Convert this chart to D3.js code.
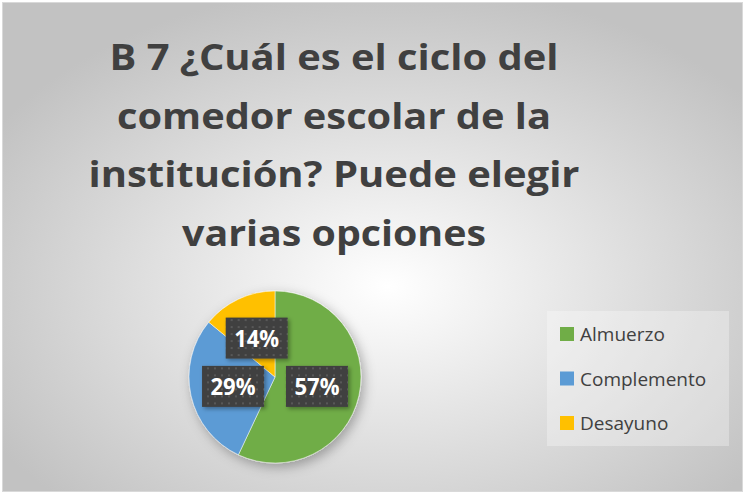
<!DOCTYPE html>
<html>
<head>
<meta charset="utf-8">
<script src="https://cdn.jsdelivr.net/npm/d3@7"></script>
<style>
    body { margin: 0; background: #ffffff; }
    #chart { width: 745px; height: 494px; }
    text { font-family: "Open Sans", sans-serif; }
</style>
</head>
<body>
<div id="chart"></div>
<script>
// chart data
let categories = ["Almuerzo", "Complemento", "Desayuno"];
let values = [57, 29, 14];
let colors = ["#70ad47", "#5b9bd5", "#ffc000"];
let titleLines = ["B 7 ¿Cuál es el ciclo del", "comedor escolar de la", "institución? Puede elegir", "varias opciones"];
let titleWidths = [449, 434, 491, 304];

class pie_chart {

    constructor(parentElement){
        this.parentElement = parentElement;
        this.initVis()
    }

    initVis(){
        let vis = this;

        vis.width = 745;
        vis.height = 494;
        vis.radius = 86;
        vis.center = {x: 275, y: 377};

        vis.svg = d3.select("#" + vis.parentElement).append("svg")
            .attr("width", vis.width)
            .attr("height", vis.height);

        let defs = vis.svg.append("defs");

        // background gradient
        let grad = defs.append("radialGradient")
            .attr("id", "bg-grad")
            .attr("cx", "52%").attr("cy", "58%").attr("r", "62%");
        grad.append("stop").attr("offset", "0%").attr("stop-color", "#ffffff");
        grad.append("stop").attr("offset", "100%").attr("stop-color", "#c2c2c2");

        // shadows
        let sh = defs.append("filter").attr("id", "pie-shadow")
            .attr("x", "-30%").attr("y", "-30%").attr("width", "160%").attr("height", "160%");
        sh.append("feDropShadow")
            .attr("dx", 3).attr("dy", 4).attr("stdDeviation", 6)
            .attr("flood-color", "#000").attr("flood-opacity", 0.3);

        let boxSh = defs.append("filter").attr("id", "box-shadow")
            .attr("x", "-30%").attr("y", "-30%").attr("width", "160%").attr("height", "160%");
        boxSh.append("feDropShadow")
            .attr("dx", 2).attr("dy", 2).attr("stdDeviation", 2)
            .attr("flood-color", "#000").attr("flood-opacity", 0.35);

        // dotted fill for label boxes
        let pat = defs.append("pattern").attr("id", "dots")
            .attr("patternUnits", "userSpaceOnUse")
            .attr("width", 7).attr("height", 7);
        pat.append("rect").attr("width", 7).attr("height", 7).attr("fill", "#404040");
        pat.append("rect").attr("x", 2).attr("y", 2).attr("width", 2).attr("height", 2).attr("fill", "#595959");

        // Border + background
        vis.svg.append("rect")
            .attr("x", 2.5).attr("y", 2.5)
            .attr("width", vis.width - 5).attr("height", vis.height - 5)
            .attr("fill", "url(#bg-grad)")
            .attr("stroke", "#d9d9d9")
            .attr("stroke-width", 1);

        // Title
        vis.svg.append("g")
            .attr("class", "title")
            .selectAll("text")
            .data(titleLines)
            .enter().append("text")
            .attr("x", 334)
            .attr("y", (d, i) => 70 + i * 58.5)
            .attr("text-anchor", "middle")
            .attr("textLength", (d, i) => titleWidths[i])
            .attr("lengthAdjust", "spacingAndGlyphs")
            .style("font-size", "35px")
            .style("font-weight", "bold")
            .attr("fill", "#404040")
            .text(d => d);

        vis.pie_group = vis.svg.append("g")
            .attr("transform", `translate(${vis.center.x}, ${vis.center.y})`);
        vis.slices_group = vis.pie_group.append("g")
            .attr("filter", "url(#pie-shadow)");
        vis.labels_group = vis.pie_group.append("g");

        vis.legend_group = vis.svg.append("g").attr("class", "legend");

        this.wrangleData();
    }

    wrangleData(){
        let vis = this;
        let total = d3.sum(values);
        vis.displayData = categories.map((c, i) => ({
            name: c,
            value: values[i],
            color: colors[i],
            pct: values[i] / total
        }));
        vis.updateVis();
    }

    updateVis(){
        let vis = this;

        let pie = d3.pie().sort(null).value(d => d.value);
        let arc = d3.arc().innerRadius(0).outerRadius(vis.radius);
        let arcs = pie(vis.displayData);

        vis.slices_group.selectAll("path")
            .data(arcs)
            .enter().append("path")
            .attr("d", arc)
            .attr("fill", d => d.data.color)
            .attr("stroke", "#ffffff")
            .attr("stroke-width", 0.5);

        // data labels
        let boxW = 62, boxH = 41;
        let labels = vis.labels_group.selectAll("g")
            .data(arcs)
            .enter().append("g")
            .attr("transform", d => `translate(${arc.centroid(d)[0]}, ${arc.centroid(d)[1]})`);
        labels.append("rect")
            .attr("x", -boxW / 2).attr("y", -boxH / 2)
            .attr("width", boxW).attr("height", boxH)
            .attr("fill", "url(#dots)")
            .attr("filter", "url(#box-shadow)");
        labels.append("text")
            .attr("text-anchor", "middle")
            .attr("y", 8.5)
            .attr("textLength", 45)
            .attr("lengthAdjust", "spacingAndGlyphs")
            .style("font-size", "23px")
            .style("font-weight", "bold")
            .attr("fill", "#ffffff")
            .text(d => d3.format(".0%")(d.data.pct));

        // legend
        vis.legend_group.append("rect")
            .attr("x", 547).attr("y", 311)
            .attr("width", 182).attr("height", 135)
            .attr("fill", "#ffffff")
            .attr("fill-opacity", 0.3);

        let legendY = d3.scalePoint()
            .domain(categories)
            .range([334, 423]);

        let items = vis.legend_group.selectAll(".item")
            .data(vis.displayData)
            .enter().append("g")
            .attr("class", "item")
            .attr("transform", d => `translate(560, ${legendY(d.name)})`);
        items.append("rect")
            .attr("x", 0).attr("y", -7)
            .attr("width", 14).attr("height", 14)
            .attr("fill", d => d.color);
        items.append("text")
            .attr("x", 20).attr("y", 7)
            .style("font-size", "19px")
            .attr("fill", "#404040")
            .text(d => d.name);
    }
}

let main_pie = new pie_chart("chart");
</script>
</body>
</html>
